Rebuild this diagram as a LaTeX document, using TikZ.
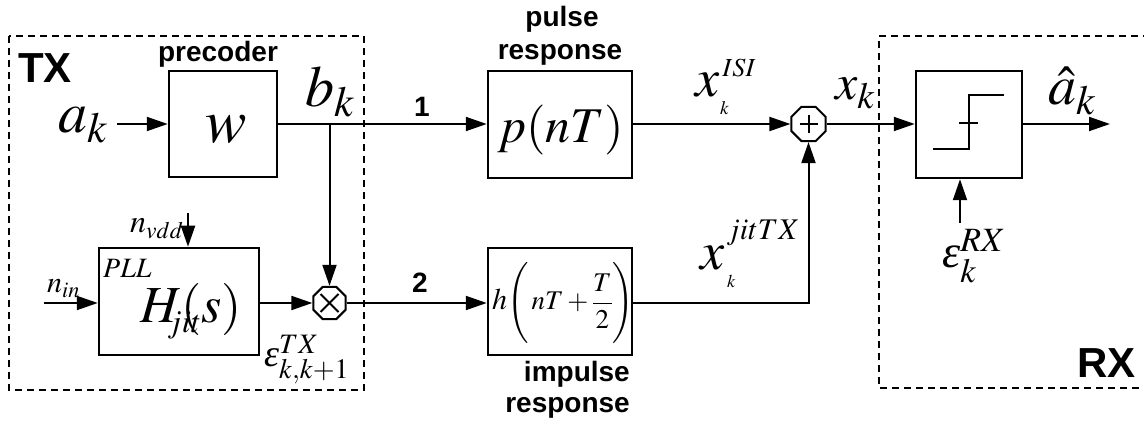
\documentclass[tikz,border=0pt]{standalone}
\usepackage{mathptmx}
\usepackage[no-math]{fontspec}
\newfontfamily\lsans{Liberation Sans}
\newfontfamily\lserif{Liberation Serif}
\usetikzlibrary{arrows.meta,shapes.geometric}
\newcommand\fsz[1]{\fontsize{#1}{#1}\selectfont}
\newcommand\epsi{\mbox{\lserif\itshape ε}}
\tikzset{
  blk/.style={draw,line width=2.5pt,inner sep=0pt},
  wire/.style={line width=2pt},
  conn/.style={line width=2pt,-{Triangle[length=21pt,width=14pt]}},
  lbl/.style={inner sep=0pt,font=\lsans\bfseries\fsz{28}},
  big/.style={inner sep=0pt,font=\lsans\bfseries\fsz{42}},
  mth/.style={inner sep=0pt},
  grp/.style={line width=2pt,dash pattern=on 7pt off 5pt},
  sum/.style={draw,line width=2pt,regular polygon,regular polygon sides=8,inner sep=0pt,minimum size=#1},
}
\begin{document}
\begin{tikzpicture}[x=1pt,y=-1pt]
\useasboundingbox (0,0) rectangle (1144,427);
% group boxes
\draw[grp] (9,36) rectangle (364,390);
\draw[grp] (1150,36) -- (879,36) -- (879,388) -- (1150,388);
\node[big,anchor=base west] (tx) at (18,83) {TX};
\node[big,anchor=base west] (rx) at (1077,378) {RX};
% blocks
\node[blk,minimum width=108pt,minimum height=106pt] (pre) at (223,124) {};
\node[mth,anchor=base] (w) at (226,143) {\fsz{62}$w$};
\node[lbl,anchor=base] (prel) at (218,62) {precoder};
\node[blk,minimum width=160pt,minimum height=107pt] (pll) at (179,301.5) {};
\node[mth,anchor=base west] (plll) at (103,278) {\fsz{28}$PLL$};
\node[mth,anchor=base west] (hjit) at (140,323) {\fsz{52}$H$\rlap{\kern-14pt\raisebox{-10pt}{\fsz{32}$jit$}}$(s)$};
\node[blk,minimum width=144pt,minimum height=107pt] (pulse) at (560,124.5) {};
\node[mth,anchor=base] (pnt) at (561,143) {\fsz{50}$p(nT)$};
\node[lbl,anchor=base] (pl1) at (562,27) {pulse};
\node[lbl,anchor=base] (pl2) at (560,60) {response};
\node[blk,minimum width=144pt,minimum height=107pt] (imp) at (560,301.5) {};
\node[mth,anchor=base west] (hnt) at (492,310) {\fsz{30}$h$\fsz{27}$\left(\rule[-30pt]{0pt}{72pt}\,nT+\displaystyle\frac{T}{2}\right)$};
\node[lbl,anchor=base east] (il1) at (630,382) {impulse};
\node[lbl,anchor=base east] (il2) at (630,413) {response};
\node[blk,minimum width=106pt,minimum height=107pt] (sl) at (969,124.5) {};
\draw[wire] (933,149) -- (969,149) -- (969,95) -- (1004,95);
\draw[wire] (959,123) -- (978,123);
% summing nodes
\node[sum=35pt] (mult) at (329.5,303) {};
\draw[wire] ([shift={(-9,-9)}]mult.center) -- ([shift={(9,9)}]mult.center);
\draw[wire] ([shift={(-9,9)}]mult.center) -- ([shift={(9,-9)}]mult.center);
\node[sum=37pt] (add) at (808.5,124) {};
\draw[wire] ([shift={(-9,0)}]add.center) -- ([shift={(9,0)}]add.center);
\draw[wire] ([shift={(0,-9)}]add.center) -- ([shift={(0,9)}]add.center);
% free ends
\coordinate (ain) at (117,124);
\coordinate (nin) at (44,303);
\coordinate (vdd) at (188,213);
\coordinate (br) at (329.5,124);
\coordinate (eps) at (960,223);
\coordinate (out) at (1110,124);
% connectors
\draw[conn] (ain) -- (pre.west |- ain);
\draw[conn] (pre.east |- ain) -- (pulse.west |- ain);
\draw[conn] (br) -- (mult.north);
\draw[conn] (vdd) -- (vdd |- pll.north);
\draw[conn] (nin) -- (pll.west |- nin);
\draw[conn] (pll.east |- mult) -- (mult.west);
\draw[conn] (mult.east) -- (imp.west |- mult);
\draw[conn] (pulse.east |- add) -- (add.west);
\draw[conn] (imp.east |- mult) -| (add.south);
\draw[conn] (add.east) -- (sl.west |- add);
\draw[conn] (sl.east |- add) -- (out);
\draw[conn] (eps) -- (eps |- sl.south);
% labels
\node[mth,anchor=base west] (ak) at (58,133) {\fsz{58}$a_k$};
\node[mth,anchor=base west] (bk) at (305,107) {\fsz{58}$b_k$};
\node[mth,anchor=base west] (nvdd) at (130,233) {\fsz{32}$n_{vdd}$};
\node[mth,anchor=base west] (ninl) at (47,293) {\fsz{30}$n_{in}$};
\node[mth,anchor=base west] (etx) at (264,367) {\fsz{38}$\epsi^{TX}_{k,k+1}$};
\node[lbl,anchor=base] (one) at (422,117) {1};
\node[lbl,anchor=base] (two) at (420,293) {2};
\node[mth,anchor=base west] (xisi) at (695,97) {\fsz{54}$x$\kern3pt\raisebox{20pt}{\fsz{26}$ISI$}};
\node[mth,anchor=base west] (xisik) at (720,115) {\fsz{19}$k$};
\node[mth,anchor=base west] (xjit) at (700,270) {\fsz{54}$x$\kern2pt\raisebox{30pt}{\fsz{30}$jitTX$}};
\node[mth,anchor=base west] (xjitk) at (727,288) {\fsz{18}$k$};
\node[mth,anchor=base west] (xk) at (835,100) {\fsz{50}$x_k$};
\node[mth,anchor=base west] (ahat) at (1048,105) {\fsz{56}$\hat{a}_k$};
\node[mth,anchor=base west] (erx) at (942,268) {\fsz{46}$\epsi^{RX}_k$};
\end{tikzpicture}
\end{document}
